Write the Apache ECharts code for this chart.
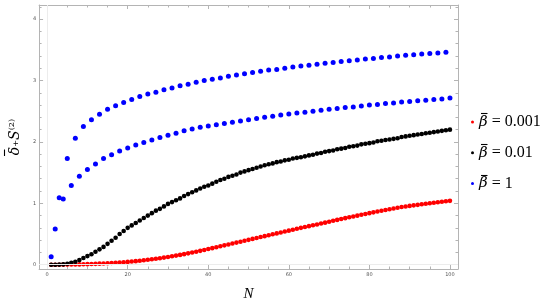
<!DOCTYPE html>
<html>
<head>
<meta charset="utf-8">
<script src="https://cdn.jsdelivr.net/npm/echarts@6/dist/echarts.min.js"></script>
<style>html,body{margin:0;padding:0;background:#fff}#c{width:545px;height:307px}</style>
</head>
<body>
<div id="c"></div>
<script>
// N values 1..100
const N = [];
for (let i = 1; i <= 100; i++) N.push(i);

const seriesNames = ['β = 0.001', 'β = 0.01', 'β = 1'];

const red = [
0,0,0,0.001,0.002,0.003,0.004,0.005,0.007,0.009,
0.011,0.014,0.017,0.02,0.024,0.028,0.032,0.036,0.041,0.046,
0.052,0.058,0.065,0.072,0.08,0.088,0.097,0.106,0.116,0.126,
0.137,0.148,0.16,0.172,0.185,0.198,0.212,0.226,0.24,0.255,
0.27,0.285,0.30,0.315,0.33,0.345,0.36,0.375,0.39,0.405,
0.42,0.435,0.45,0.465,0.48,0.495,0.51,0.525,0.54,0.555,
0.57,0.585,0.60,0.614,0.628,0.642,0.656,0.67,0.685,0.70,
0.715,0.73,0.744,0.758,0.772,0.785,0.799,0.813,0.827,0.84,
0.853,0.866,0.878,0.89,0.903,0.915,0.928,0.94,0.949,0.958,
0.967,0.975,0.984,0.993,1.002,1.01,1.018,1.025,1.033,1.04
];

const black = [
0,0,0.002,0.006,0.016,0.03,0.048,0.075,0.11,0.14,
0.17,0.21,0.25,0.29,0.34,0.39,0.44,0.50,0.55,0.60,
0.64,0.68,0.72,0.76,0.80,0.84,0.88,0.91,0.95,0.99,
1.02,1.05,1.08,1.12,1.15,1.18,1.21,1.24,1.27,1.29,
1.32,1.35,1.38,1.40,1.43,1.45,1.47,1.50,1.52,1.54,
1.56,1.58,1.60,1.62,1.635,1.65,1.67,1.68,1.70,1.71,
1.73,1.74,1.75,1.765,1.78,1.79,1.81,1.82,1.84,1.85,
1.86,1.88,1.89,1.90,1.92,1.93,1.94,1.96,1.97,1.98,
1.99,2.01,2.02,2.03,2.04,2.05,2.06,2.08,2.09,2.10,
2.11,2.12,2.13,2.14,2.15,2.16,2.17,2.18,2.19,2.20
];

const blue = [
0.13,0.58,1.09,1.07,1.73,1.29,2.06,1.44,2.25,1.55,
2.36,1.64,2.45,1.73,2.53,1.79,2.59,1.85,2.64,1.90,
2.69,1.95,2.74,1.99,2.78,2.03,2.81,2.07,2.85,2.11,
2.88,2.14,2.915,2.18,2.94,2.21,2.97,2.24,3.00,2.26,
3.02,2.28,3.04,2.30,3.07,2.32,3.09,2.34,3.11,2.36,
3.13,2.38,3.15,2.40,3.17,2.42,3.18,2.44,3.20,2.455,
3.22,2.47,3.235,2.485,3.25,2.50,3.265,2.515,3.28,2.53,
3.295,2.545,3.31,2.56,3.32,2.57,3.335,2.585,3.35,2.60,
3.36,2.61,3.375,2.625,3.385,2.635,3.40,2.65,3.41,2.66,
3.42,2.67,3.43,2.68,3.44,2.69,3.45,2.70,3.46,2.715
];

const xMajor = [0, 20, 40, 60, 80, 100];
const xMinor = [5,10,15,25,30,35,45,50,55,65,70,75,85,90,95];
const yMajor = [0, 1, 2, 3, 4];
const yMinor = [0.2,0.4,0.6,0.8,1.2,1.4,1.6,1.8,2.2,2.4,2.6,2.8,3.2,3.4,3.6,3.8,4.2];

const frame = '#b4b4b4';
const X_MIN = -2, X_MAX = 102, Y_MIN = -0.07, Y_MAX = 4.23;

function xAx(pos, values, len, labels, line, extra) {
  return Object.assign({
    type: 'value', gridIndex: 0, position: pos, min: X_MIN, max: X_MAX,
    axisLine: { show: line, onZero: false, lineStyle: { color: frame, width: 1 } },
    axisTick: { show: true, inside: true, length: len, customValues: values, lineStyle: { color: frame, width: 1 } },
    axisLabel: { show: labels, customValues: values, fontSize: 5, color: '#555', margin: 3, fontFamily: 'DejaVu Sans' },
    splitLine: { show: false }
  }, extra || {});
}
function yAx(pos, values, len, labels, line, extra) {
  return Object.assign({
    type: 'value', gridIndex: 0, position: pos, min: Y_MIN, max: Y_MAX,
    axisLine: { show: line, onZero: false, lineStyle: { color: frame, width: 1 } },
    axisTick: { show: true, inside: true, length: len, customValues: values, lineStyle: { color: frame, width: 1 } },
    axisLabel: { show: labels, customValues: values, fontSize: 5, color: '#555', margin: 3, fontFamily: 'DejaVu Sans' },
    splitLine: { show: false }
  }, extra || {});
}

const mk = (arr) => arr.map((v, i) => [N[i], v]);

// macron bars drawn over β (legend) and δ (y title)
const barStyle = { stroke: '#000', lineWidth: 1.1 };
const macrons = [
  { type: 'line', shape: { x1: 481, y1: 113.5, x2: 487.5, y2: 113.5 }, style: barStyle, silent: true },
  { type: 'line', shape: { x1: 481, y1: 144.5, x2: 487.5, y2: 144.5 }, style: barStyle, silent: true },
  { type: 'line', shape: { x1: 481, y1: 175.5, x2: 487.5, y2: 175.5 }, style: barStyle, silent: true },
  { type: 'line', shape: { x1: 4.5, y1: 149.5, x2: 4.5, y2: 156 }, style: barStyle, silent: true }
];

const chart = echarts.init(document.getElementById('c'), null, { renderer: 'canvas' });
chart.setOption({
  animation: false,
  backgroundColor: '#fff',
  grid: { left: 25, right: 87, top: 5, bottom: 34.5, containLabel: false },
  graphic: macrons,
  xAxis: [
    xAx('bottom', xMajor, 4, true, true, {
      name: 'N', nameLocation: 'middle', nameGap: 18,
      nameTextStyle: { fontFamily: 'Liberation Serif', fontStyle: 'italic', fontSize: 15, color: '#000' }
    }),
    xAx('bottom', xMinor, 2.5, false, false),
    xAx('top', xMajor, 4, false, true),
    xAx('top', xMinor, 2.5, false, false)
  ],
  yAxis: [
    yAx('left', yMajor, 4, true, true, {
      name: '{i|δ}{n|₊}{i|S}{n|⁽²⁾}', nameLocation: 'middle', nameGap: 11, nameRotate: 90,
      nameTextStyle: {
        color: '#000',
        rich: {
          i: { fontFamily: 'DejaVu Serif', fontStyle: 'italic', fontSize: 14, color: '#000' },
          n: { fontFamily: 'DejaVu Serif', fontSize: 13, color: '#000' }
        }
      }
    }),
    yAx('left', yMinor, 2.5, false, false),
    yAx('right', yMajor, 4, false, true),
    yAx('right', yMinor, 2.5, false, false)
  ],
  legend: {
    orient: 'vertical', left: 466, top: 109,
    itemWidth: 3, itemHeight: 3, itemGap: 14.8, icon: 'circle',
    data: seriesNames,
    formatter: function (name) {
      return '{i|β}{n|' + name.slice(1) + '}';
    },
    textStyle: {
      lineHeight: 16,
      rich: {
        i: { fontFamily: 'DejaVu Serif', fontStyle: 'italic', fontSize: 15, color: '#000' },
        n: { fontFamily: 'Liberation Serif', fontSize: 16, color: '#000' }
      }
    }
  },
  series: [
    {
      name: seriesNames[0], type: 'scatter', xAxisIndex: 0, yAxisIndex: 0,
      data: mk(red), symbolSize: 4.6, itemStyle: { color: '#ff0000', opacity: 1 }, z: 3,
      markLine: {
        silent: true, symbol: 'none', animation: false,
        label: { show: false },
        lineStyle: { color: '#ececec', width: 1, type: 'solid' },
        data: [{ xAxis: 0 }, { yAxis: 0 }]
      }
    },
    { name: seriesNames[1], type: 'scatter', xAxisIndex: 0, yAxisIndex: 0,
      data: mk(black), symbolSize: 4.6, itemStyle: { color: '#000000', opacity: 1 }, z: 4 },
    { name: seriesNames[2], type: 'scatter', xAxisIndex: 0, yAxisIndex: 0,
      data: mk(blue), symbolSize: 5, itemStyle: { color: '#0000ff', opacity: 1 }, z: 5 }
  ]
});
</script>
</body>
</html>
